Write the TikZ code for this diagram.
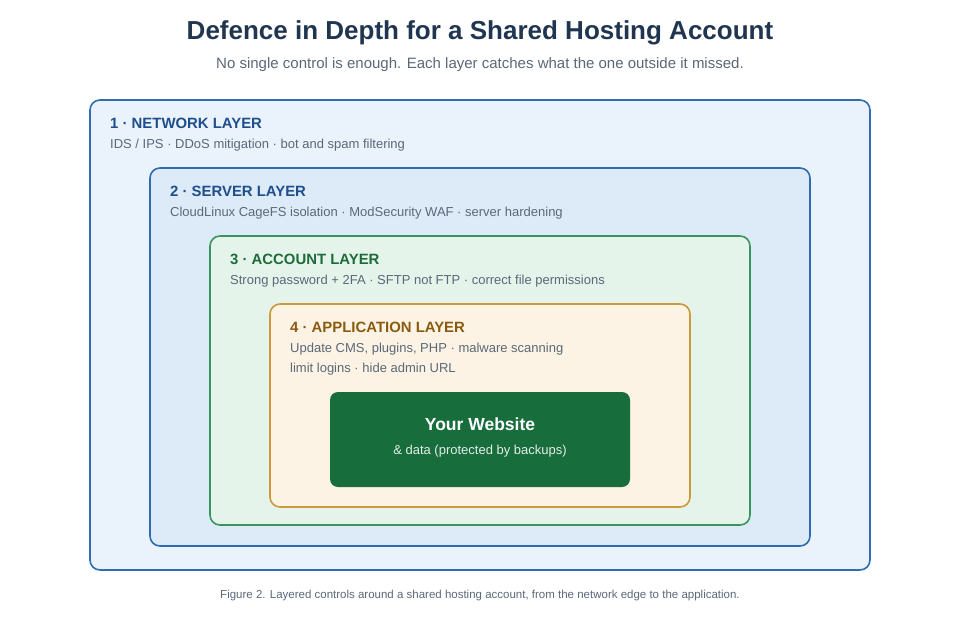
\documentclass[tikz,border=0pt]{standalone}
\usepackage{fontspec}
\setmainfont{Liberation Sans}
\usetikzlibrary{positioning}
\definecolor{navy}{HTML}{1F3550}
\definecolor{grey}{HTML}{5A6878}
\definecolor{blueline}{HTML}{2F6DB0}
\definecolor{bluetext}{HTML}{1F4E8C}
\definecolor{bluefillA}{HTML}{EAF2FB}
\definecolor{bluefillB}{HTML}{DDEBF9}
\definecolor{greenline}{HTML}{3A9460}
\definecolor{greentext}{HTML}{1E6B3A}
\definecolor{greenfill}{HTML}{E5F4EA}
\definecolor{amberline}{HTML}{CC9A3A}
\definecolor{ambertext}{HTML}{8A5A10}
\definecolor{amberfill}{HTML}{FCF3E4}
\definecolor{sitefill}{HTML}{176D3B}
\begin{document}
\begin{tikzpicture}[x=1pt,y=-1pt,
		layer/.style={draw,line width=1.6pt,rounded corners=10pt},
		head/.style={anchor=west,inner sep=0pt,font=\bfseries\fontsize{14.9}{16}\selectfont},
		desc/.style={anchor=west,inner sep=0pt,text=grey,font=\fontsize{13}{20}\selectfont,align=left}]
	\useasboundingbox (0,0) rectangle (960,620);
	
	\node[font=\bfseries\fontsize{26}{30}\selectfont,text=navy] (title) at (480,33) {Defence in Depth for a Shared Hosting Account};
	\node[font=\fontsize{15}{17}\selectfont,text=grey] (sub) at (480,65) {No single control is enough. Each layer catches what the one outside it missed.};
	
	\draw[layer,draw=blueline,fill=bluefillA] (90,100) rectangle (870,570);
	\node[head,text=bluetext] (n1) at (110,123) {1 · NETWORK LAYER};
	\node[desc] (d1) at (110,145) {IDS / IPS · DDoS mitigation · bot and spam filtering};
	
	\draw[layer,draw=blueline,fill=bluefillB] (150,168) rectangle (810,546);
	\node[head,text=bluetext] (n2) at (170,191) {2 · SERVER LAYER};
	\node[desc] (d2) at (170,213) {CloudLinux CageFS isolation · ModSecurity WAF · server hardening};
	
	\draw[layer,draw=greenline,fill=greenfill] (210,236) rectangle (750,525);
	\node[head,text=greentext] (n3) at (230,259) {3 · ACCOUNT LAYER};
	\node[desc] (d3) at (230,281) {Strong password + 2FA · SFTP not FTP · correct file permissions};
	
	\draw[layer,draw=amberline,fill=amberfill] (270,304) rectangle (690,507);
	\node[head,text=ambertext] (n4) at (290,327) {4 · APPLICATION LAYER};
	\node[desc] (d4) at (290,359) {Update CMS, plugins, PHP · malware scanning\\limit logins · hide admin URL};
	
	\fill[sitefill,rounded corners=8pt] (330,392) rectangle (630,487);
	\node[text=white,font=\bfseries\fontsize{17.5}{20}\selectfont] (site) at (480,424) {Your Website};
	\node[text=white!88!sitefill,font=\fontsize{13}{15}\selectfont] (data) at (480,451) {\& data (protected by backups)};
	
	\node[text=grey,font=\fontsize{11.5}{13}\selectfont] (cap) at (480,596) {Figure 2. Layered controls around a shared hosting account, from the network edge to the application.};
\end{tikzpicture}
\end{document}
